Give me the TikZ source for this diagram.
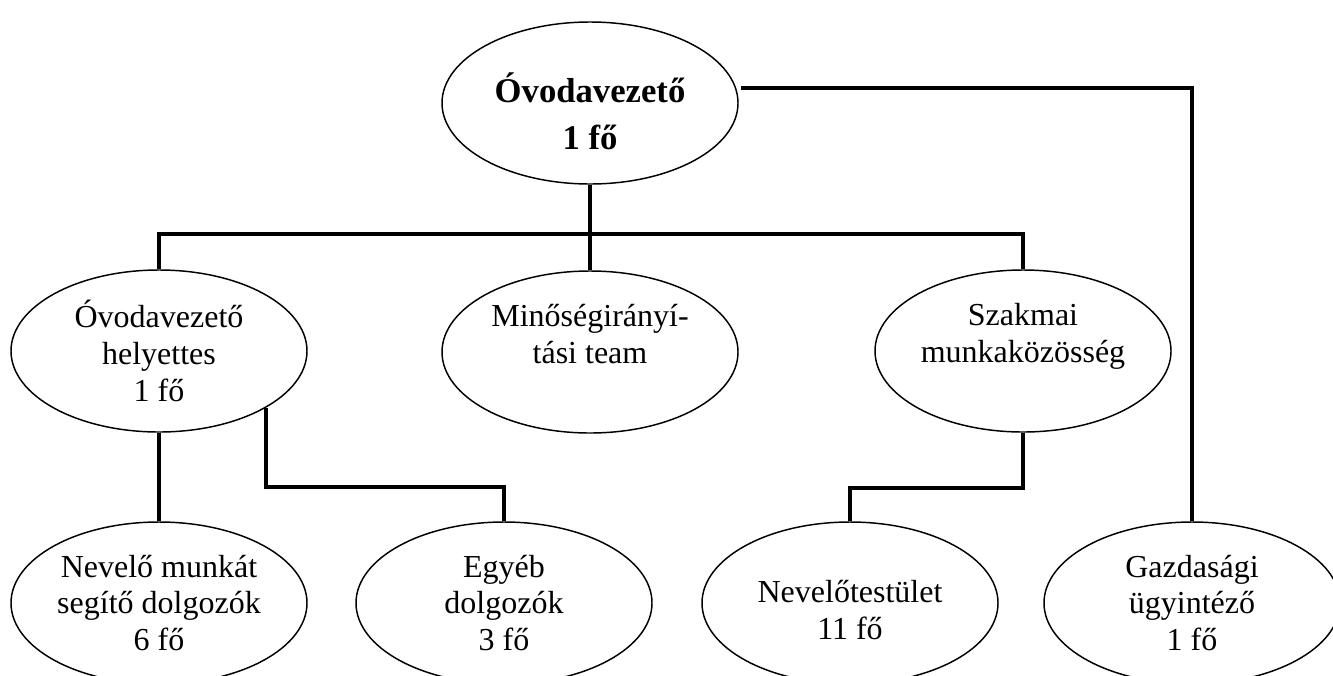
\documentclass[tikz,border=0pt]{standalone}
\usepackage{fontspec}
\setmainfont{Liberation Serif}
\usetikzlibrary{shapes.geometric}

\begin{document}
\begin{tikzpicture}[x = 0.75pt, y = -0.75pt,
  ovalbox/.style={draw, ellipse, line width = 1.1pt, inner sep = 0pt,
    minimum width = 222pt, minimum height = 121.5pt, align = center,
    font = \fontsize{24}{27.6}\selectfont},
  link/.style={line width = 3pt}]

  \useasboundingbox (0, 0) rectangle (1333, 675);

  % vezetes
  \node[ovalbox, font = \fontsize{26}{29.9}\selectfont\bfseries] (top) at (590, 103)
    {\mbox{}\\[5pt]Óvodavezető\\[5pt]1 fő};

  \node[ovalbox] (helyettes) at (159, 351) {Óvodavezető\\helyettes\\1 fő};
  \node[ovalbox] (minoseg)   at (590, 352) {Minőségirányí-\\tási team\\\mbox{}};
  \node[ovalbox] (szakmai)   at (1023, 351) {Szakmai\\munkaközösség\\\mbox{}};

  \node[ovalbox] (nevmunk) at (159, 603) {Nevelő munkát\\segítő dolgozók\\6 fő};
  \node[ovalbox] (egyeb)   at (504, 603) {Egyéb\\dolgozók\\3 fő};
  \node[ovalbox] (nevtest) at (850, 603) {\mbox{}\\Nevelőtestület\\11 fő};
  \node[ovalbox] (gazd)    at (1192, 603) {Gazdasági\\ügyintéző\\1 fő};

  % kapcsolatok
  \draw[link] (top.south) -- (minoseg.north);
  \draw[link] (helyettes.north) -- ++(0, -35) -| (szakmai.north);
  \draw[link] ([xshift = 4pt]top.6) -| (gazd.north);

  \draw[link] (helyettes.south) -- (nevmunk.north);
  \draw[link] (helyettes.-28.5) -- ++(0, 79) -| (egyeb.north);
  \draw[link] (szakmai.south) -- ++(0, 55) -| (nevtest.north);

\end{tikzpicture}
\end{document}
